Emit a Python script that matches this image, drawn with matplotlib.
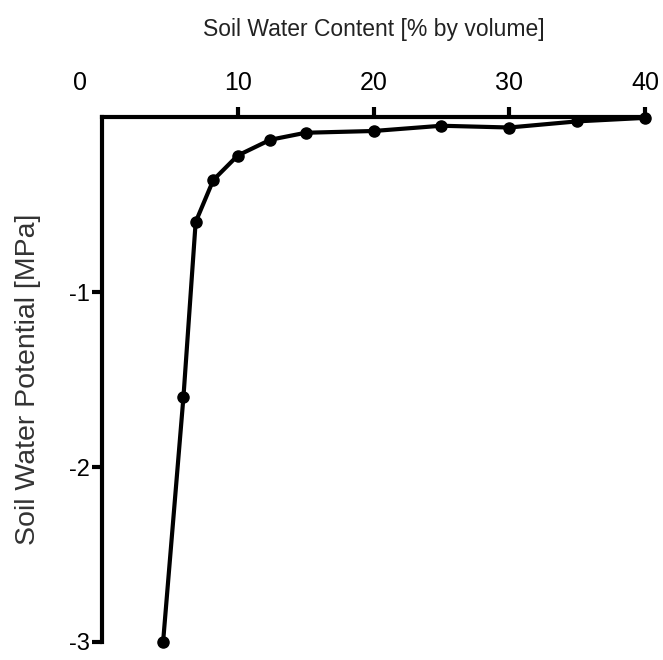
import matplotlib
matplotlib.use("Agg")
import matplotlib.pyplot as plt
import matplotlib.transforms as mtransforms

# soil water retention curve
water_content = [4.5, 6.0, 6.9, 8.2, 10.0, 12.4, 15.0, 20.0, 25.0, 30.0, 35.0, 40.0]
water_potential = [-3.0, -1.6, -0.6, -0.36, -0.22, -0.13, -0.09, -0.08, -0.05, -0.06, -0.025, -0.005]

x_ticks = [0, 10, 20, 30, 40]
y_ticks = [-1, -2, -3]

plt.rcParams["font.family"] = ["Liberation Sans", "DejaVu Sans"]
plt.rcParams["axes.unicode_minus"] = False

fig = plt.figure(figsize=(6.63, 6.6), dpi=100)
ax = fig.add_axes([102 / 663, 18 / 660, (645 - 102) / 663, (642 - 117) / 660])

ax.plot(water_content, water_potential, color="black", linewidth=3.0,
        marker="o", markersize=8, clip_on=False, zorder=3)

ax.set_xlim(0, 40)
ax.set_ylim(-3, 0)

# axes: top and left only, heavy black lines
for side in ["right", "bottom"]:
    ax.spines[side].set_visible(False)
for side in ["top", "left"]:
    ax.spines[side].set_linewidth(3.0)
    ax.spines[side].set_color("black")

ax.xaxis.set_ticks_position("top")
ax.xaxis.set_label_position("top")
ax.set_xticks(x_ticks)
ax.set_yticks(y_ticks)
ax.tick_params(axis="x", direction="out", length=7, width=3.0, labelsize=18, pad=9)
ax.tick_params(axis="y", direction="out", length=7, width=3.0, labelsize=17, pad=2)

# the corner tick for 0 is hidden and its label sits left of the axis
xt = ax.xaxis.get_major_ticks()
xt[0].tick2line.set_visible(False)
lbl0 = xt[0].label2
lbl0.set_transform(lbl0.get_transform() + mtransforms.ScaledTranslation(-22 / 100, 0, fig.dpi_scale_trans))

ax.set_xlabel("Soil Water Content [% by volume]", fontsize=16.5, labelpad=25, color="#222222")
ax.set_ylabel("Soil Water Potential [MPa]", fontsize=20.5, labelpad=20, color="#333333")

fig.savefig("out.png", dpi=100)
